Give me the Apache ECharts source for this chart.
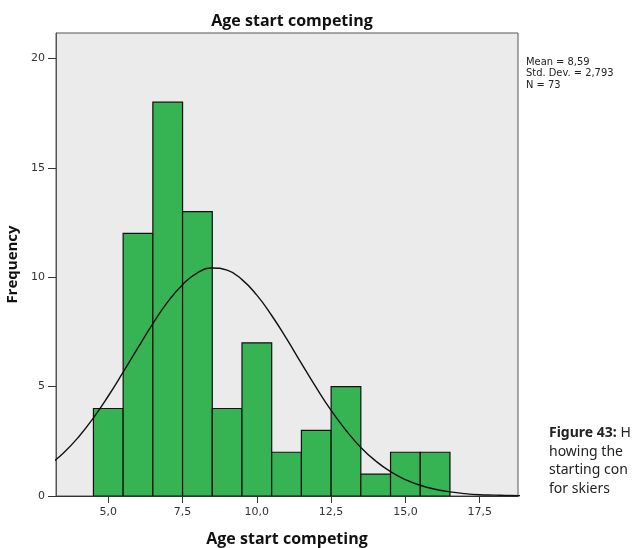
<!DOCTYPE html>
<html><head><meta charset="utf-8">
<script src="https://cdn.jsdelivr.net/npm/echarts@6/dist/echarts.min.js"></script>
<style>html,body{margin:0;padding:0;background:#fff}#c{width:632px;height:548px}</style>
</head><body><div id="c"></div>
<script>
var binStart = [4.5,5.5,6.5,7.5,8.5,9.5,10.5,11.5,12.5,13.5,14.5,15.5];
var binEnd   = [5.5,6.5,7.5,8.5,9.5,10.5,11.5,12.5,13.5,14.5,15.5,16.5];
var counts   = [4,12,18,13,4,7,2,3,5,1,2,2];
var curveX = [3.0,3.5,4.0,4.5,5.0,5.5,6.0,6.5,7.0,7.5,8.0,8.5,9.0,9.5,10.0,10.5,11.0,11.5,12.0,12.5,13.0,13.5,14.0,14.5,15.0,15.5,16.0,16.5,17.0,17.5,18.0,18.5,19.0];
var curveY = [1.41,1.98,2.70,3.57,4.57,5.66,6.78,7.88,8.87,9.66,10.20,10.42,10.32,9.89,9.18,8.25,7.19,6.06,4.95,3.91,3.00,2.22,1.60,1.11,0.75,0.49,0.31,0.19,0.11,0.06,0.04,0.02,0.01];
var xTicks = [5.0,7.5,10.0,12.5,15.0,17.5];
var yTicks = [0,5,10,15,20];
var statsLines = ['Mean = 8,59','Std. Dev. = 2,793','N = 73'];

var chart = echarts.init(document.getElementById('c'));
var barData = binStart.map(function(s,i){return [s, binEnd[i], counts[i]];});
var lineData = curveX.map(function(x,i){return [x, curveY[i]];});
chart.setOption({
  animation:false,
  title:{text:'Age start competing', left:287, top:8, textAlign:'center',
    textStyle:{fontFamily:'Open Sans', fontWeight:'bold', fontSize:16, color:'#111'}},
  grid:{left:56, right:114, top:33, bottom:52, show:true, backgroundColor:'#ebebeb', borderColor:'#555', borderWidth:1, outerBoundsMode:'none', containLabel:false},
  xAxis:{type:'value', min:3.24, max:18.79,
    name:'Age start competing', nameLocation:'middle', nameGap:35,
    nameTextStyle:{fontFamily:'Open Sans', fontWeight:'bold', fontSize:16, color:'#111'},
    axisLine:{show:true, lineStyle:{color:'#333', width:1}},
    axisTick:{show:true, length:7, customValues:xTicks, lineStyle:{color:'#333'}},
    axisLabel:{customValues:xTicks, margin:11, formatter:function(v){return v.toFixed(1).replace('.',',');}, fontFamily:'DejaVu Sans', fontSize:11, color:'#333'},
    splitLine:{show:false}},
  yAxis:{type:'value', min:0, max:21.16,
    name:'Frequency', nameLocation:'middle', nameGap:34, nameRotate:90,
    nameTextStyle:{fontFamily:'Open Sans', fontWeight:'bold', fontSize:15, color:'#111'},
    axisLine:{show:true, lineStyle:{color:'#555', width:1}},
    axisTick:{show:true, length:8, customValues:yTicks, lineStyle:{color:'#333'}},
    axisLabel:{customValues:yTicks, margin:11, fontFamily:'DejaVu Sans', fontSize:11, color:'#333'},
    splitLine:{show:false}},
  series:[
    {type:'custom', data:barData, encode:{x:[0,1], y:2}, clip:true,
     renderItem:function(params, api){
       var p0 = api.coord([api.value(0), api.value(2)]);
       var p1 = api.coord([api.value(1), 0]);
       return {type:'rect', shape:{x:p0[0], y:p0[1], width:p1[0]-p0[0], height:p1[1]-p0[1]},
         style:{fill:'#36b454', stroke:'#111', lineWidth:1.2}};
     }, z:2},
    {type:'line', data:lineData, smooth:true, showSymbol:false, clip:true,
     lineStyle:{color:'#111', width:1.4}, z:3}
  ],
  graphic:[
    {type:'text', left:526, top:56, style:{text:statsLines.join('\n'), fontFamily:'DejaVu Sans Condensed', fontSize:11, lineHeight:11.5, fill:'#222'}},
    {type:'text', left:549, top:424, style:{
      text:'{b|Figure 43:} H\nhowing the\nstarting con\nfor skiers',
      fontFamily:'Noto Sans', fontSize:14, lineHeight:18.5, fill:'#222',
      rich:{b:{fontFamily:'Noto Sans', fontWeight:'bold', fontSize:14, fill:'#222'}}}}
  ]
});
</script></body></html>
